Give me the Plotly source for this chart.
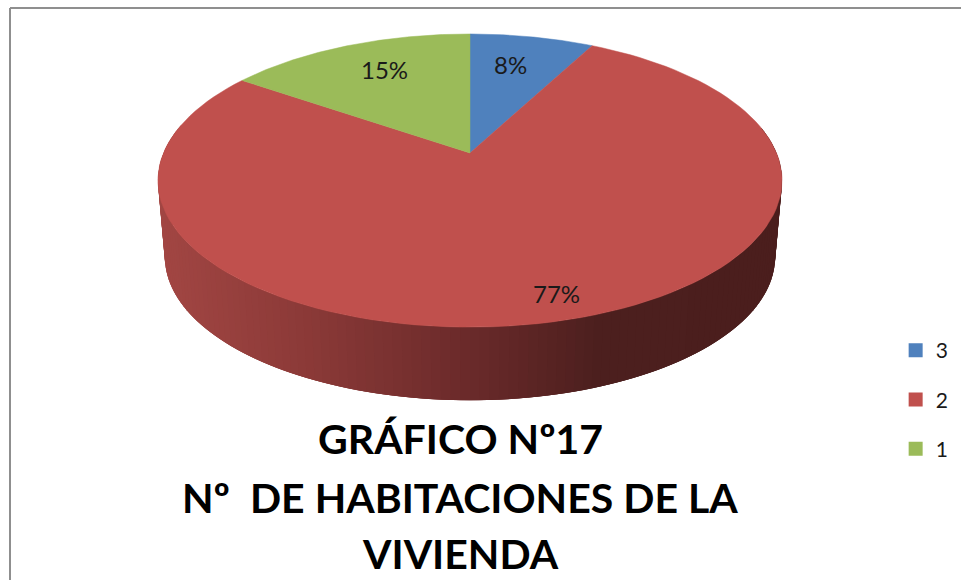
import numpy as np
import plotly.graph_objects as go

categories = ["3", "2", "1"]
counts = [2, 20, 4]
colors = ["#4f81bd", "#c0504d", "#9bbb59"]
title_lines = ["GRÁFICO Nº17", "Nº  DE HABITACIONES DE LA", "VIVIENDA"]

# Perspective model of the tilted disc, in pixels of the 961x580 canvas
CX, CY, A, B, K = 470.0, 153.0, 306.5, 141.4, 0.188
WALL_SCALE, WALL_DROP = 0.978, 77.0


def disc(theta, scale=1.0, drop=0.0):
    d = 1 + K * np.cos(theta)
    return CX + scale * A * np.sin(theta) / d, CY + drop - scale * B * np.cos(theta) / d


def wall_color(x):
    stops_x = [158, 300, 470, 600, 782]
    r = np.interp(x, stops_x, [162, 140, 106, 76, 75])
    g = np.interp(x, stops_x, [70, 58, 42, 31, 30])
    b = np.interp(x, stops_x, [67, 56, 42, 30, 29])
    return f"rgb({r:.0f},{g:.0f},{b:.0f})"


fig = go.Figure()

# side wall: strips painted from left to right, each overlapping the next to hide seams
edges = np.radians(np.arange(282, 78, -1.5))
for i in range(len(edges) - 1):
    t0, t1 = edges[i], edges[i + 1]
    t2 = edges[min(i + 3, len(edges) - 1)]
    xs0, ys0 = disc(t0)
    xs1, ys1 = disc(t2)
    xs2, ys2 = disc(t2, WALL_SCALE, WALL_DROP)
    xs3, ys3 = disc(t0, WALL_SCALE, WALL_DROP)
    xm, _ = disc((t0 + t1) / 2)
    fig.add_trace(go.Scatter(x=[xs0, xs1, xs2, xs3, xs0], y=[ys0, ys1, ys2, ys3, ys0], mode="none",
                             fill="toself", fillcolor=wall_color(xm),
                             showlegend=False, hoverinfo="skip"))

# top face wedges
cum = 0.0
total = sum(counts)
for count, color in zip(counts, colors):
    th = np.radians(np.linspace(cum, cum + count, 120) / total * 360)
    x, y = disc(th)
    fig.add_trace(go.Scatter(x=np.r_[CX, x, CX], y=np.r_[CY, y, CY], mode="lines", fill="toself",
                             fillcolor=color, line=dict(color=color, width=0.5),
                             showlegend=False, hoverinfo="skip"))
    cum += count

# legend entries
for cat, color in zip(categories, colors):
    fig.add_trace(go.Scatter(x=[None], y=[None], mode="markers", name=cat, legendgroup=cat,
                             marker=dict(symbol="square", size=14, color=color)))

annotations = []
for count, (px, py) in zip(counts, [(510, 64), (556, 293), (384, 69)]):
    annotations.append(dict(x=px, y=py, xref="x", yref="y", text=f"{round(100 * count / total)}%",
                            showarrow=False, font=dict(family="Lato", size=24, color="#1a1a1a")))
for line, py in zip(title_lines, [438, 497, 553]):
    annotations.append(dict(x=460, y=py, xref="x", yref="y", text=line, showarrow=False, align="center",
                            font=dict(family="Lato", size=41, color="#000000", weight="bold")))

frame = dict(color="#8f8f8f", width=2)
fig.update_layout(
    width=961, height=580, margin=dict(l=0, r=0, t=0, b=0),
    paper_bgcolor="white", plot_bgcolor="white",
    xaxis=dict(range=[0, 961], visible=False, fixedrange=True),
    yaxis=dict(range=[580, 0], visible=False, fixedrange=True),
    annotations=annotations,
    shapes=[dict(type="line", x0=10, x1=10, y0=8, y1=580, xref="x", yref="y", line=frame),
            dict(type="line", x0=10, x1=961, y0=8, y1=8, xref="x", yref="y", line=frame)],
    legend=dict(x=0.932, y=0.431, xanchor="left", yanchor="top", tracegroupgap=19, itemwidth=30,
                font=dict(family="Lato", size=21, color="#1a1a1a"), bgcolor="rgba(0,0,0,0)"),
    showlegend=True,
)
fig.write_html("out.html", config={"displayModeBar": False},
               post_script="document.body.style.margin='0';document.body.style.overflow='hidden';")
